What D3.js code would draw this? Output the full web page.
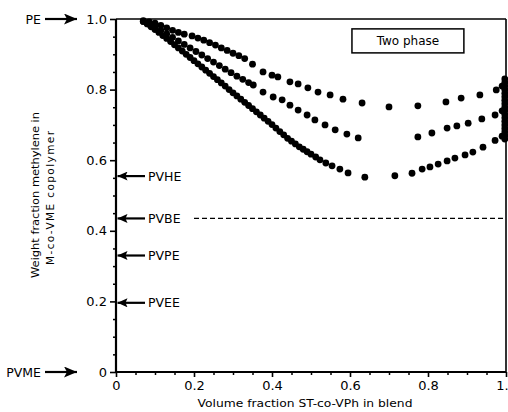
<!DOCTYPE html>
<html>
<head>
<meta charset="utf-8">
<script src="https://cdn.jsdelivr.net/npm/d3@7"></script>
<style>
  body { margin: 0; background: #fff; }
  svg { display: block; font-family: "DejaVu Sans", sans-serif; }
</style>
</head>
<body>
<div id="chart"></div>
<script>
// ---- data ----
const xTickValues = [0, 0.2, 0.4, 0.6, 0.8, 1.0];
const xTickLabels = ['0', '0.2', '0.4', '0.6', '0.8', '1.0'];
const yTickValues = [0, 0.2, 0.4, 0.6, 0.8, 1.0];
const yTickLabels = ['0', '0.2', '0.4', '0.6', '0.8', '1.0'];
const minorTickValues = [0.05, 0.1, 0.15, 0.25, 0.3, 0.35, 0.45, 0.5, 0.55, 0.65, 0.7, 0.75, 0.85, 0.9, 0.95];

// upper branch
const upperX = [0.07, 0.085, 0.10, 0.115, 0.13, 0.145, 0.16, 0.175, 0.195, 0.21, 0.225, 0.24, 0.255, 0.27, 0.285, 0.30,
  0.315, 0.33, 0.35, 0.377, 0.40, 0.415, 0.446, 0.467, 0.492, 0.518, 0.549, 0.582, 0.631, 0.70, 0.774, 0.846, 0.885,
  0.933, 0.975, 0.99];
const upperY = [0.995, 0.992, 0.988, 0.982, 0.975, 0.968, 0.962, 0.957, 0.952, 0.946, 0.940, 0.933, 0.926, 0.918, 0.911, 0.903,
  0.896, 0.888, 0.872, 0.850, 0.841, 0.836, 0.822, 0.816, 0.805, 0.793, 0.785, 0.773, 0.762, 0.751, 0.754, 0.765, 0.776,
  0.785, 0.799, 0.81];

// middle branch
const middleX = [0.07, 0.085, 0.10, 0.115, 0.13, 0.145, 0.16, 0.175, 0.19, 0.205, 0.22, 0.235, 0.25, 0.265, 0.28, 0.295,
  0.31, 0.325, 0.34, 0.352, 0.377, 0.403, 0.426, 0.446, 0.467, 0.49, 0.51, 0.536, 0.562, 0.592, 0.621,
  0.774, 0.81, 0.849, 0.874, 0.903, 0.938, 0.972, 0.99];
const middleY = [0.993, 0.985, 0.977, 0.968, 0.958, 0.948, 0.938, 0.928, 0.918, 0.908, 0.898, 0.888, 0.878, 0.868, 0.858, 0.848,
  0.838, 0.829, 0.820, 0.813, 0.793, 0.779, 0.771, 0.756, 0.742, 0.728, 0.714, 0.700, 0.686, 0.674, 0.663,
  0.666, 0.677, 0.691, 0.697, 0.705, 0.717, 0.728, 0.74];

// lower branch
const lowerX = [0.07, 0.08, 0.09, 0.10, 0.11, 0.12, 0.13, 0.14, 0.15, 0.16, 0.17, 0.18, 0.19, 0.20, 0.21, 0.22, 0.23, 0.24,
  0.25, 0.26, 0.27, 0.28, 0.29, 0.30, 0.31, 0.32, 0.33, 0.34, 0.35, 0.36, 0.37, 0.38, 0.39, 0.40, 0.41, 0.42, 0.43, 0.44,
  0.45, 0.46, 0.47, 0.48, 0.49, 0.50, 0.512, 0.523, 0.538, 0.554, 0.574, 0.595, 0.638,
  0.715, 0.759, 0.785, 0.805, 0.826, 0.849, 0.869, 0.895, 0.915, 0.941, 0.972, 0.99];
const lowerY = [0.993, 0.986, 0.978, 0.970, 0.962, 0.953, 0.945, 0.936, 0.927, 0.918, 0.909, 0.900, 0.891, 0.882, 0.873, 0.864,
  0.855, 0.846, 0.837, 0.828, 0.819, 0.810, 0.800, 0.791, 0.782, 0.773, 0.764, 0.755, 0.746, 0.737, 0.728, 0.719, 0.710,
  0.701, 0.691, 0.681, 0.672, 0.662, 0.654, 0.646, 0.638, 0.631, 0.624, 0.617, 0.609, 0.601, 0.592, 0.584, 0.575, 0.564,
  0.552, 0.556, 0.563, 0.575, 0.581, 0.589, 0.598, 0.606, 0.615, 0.623, 0.637, 0.656, 0.668];

// points packed on the right edge (pure ST-co-VPh side)
const edgeX = 0.997;
const edgeY = [0.83, 0.82, 0.81, 0.80, 0.79, 0.78, 0.77, 0.76, 0.75, 0.74, 0.73, 0.72, 0.71, 0.70, 0.69, 0.68, 0.67, 0.66];

const endLabels = ['PE', 'PVME'];
const endValues = [1.0, 0];
const etherLabels = ['PVHE', 'PVBE', 'PVPE', 'PVEE'];
const etherValues = [0.555, 0.435, 0.33, 0.196];

const dashedLevel = 0.435;
const dashedFrom = 0.2;
const phaseLabel = 'Two phase';

// ---- drawing ----
const W = 508, H = 412;
const margin = { top: 19, right: 2, bottom: 40, left: 116 };

const svg = d3.select('#chart').append('svg')
  .attr('width', W).attr('height', H)
  .attr('viewBox', `0 0 ${W} ${H}`);

const x = d3.scaleLinear().domain([0, 1]).range([margin.left, W - margin.right]);
const y = d3.scaleLinear().domain([0, 1]).range([H - margin.bottom, margin.top]);

const defs = svg.append('defs');
defs.append('marker')
  .attr('id', 'head-big')
  .attr('markerUnits', 'userSpaceOnUse')
  .attr('markerWidth', 13).attr('markerHeight', 11)
  .attr('refX', 13).attr('refY', 5.5)
  .attr('orient', 'auto')
  .append('path').attr('d', 'M0,0 L13,5.5 L0,11 L3,5.5 Z').attr('fill', '#000');
defs.append('marker')
  .attr('id', 'head-small')
  .attr('markerUnits', 'userSpaceOnUse')
  .attr('markerWidth', 10).attr('markerHeight', 9)
  .attr('refX', 10).attr('refY', 4.5)
  .attr('orient', 'auto')
  .append('path').attr('d', 'M0,0 L10,4.5 L0,9 L2,4.5 Z').attr('fill', '#000');

// frame (top and right)
svg.append('line')
  .attr('x1', x(0)).attr('x2', x(1)).attr('y1', y(1)).attr('y2', y(1))
  .attr('stroke', '#000').attr('stroke-width', 1.6);
svg.append('line')
  .attr('x1', x(1)).attr('x2', x(1)).attr('y1', y(1)).attr('y2', y(0))
  .attr('stroke', '#000').attr('stroke-width', 1.6);

// minor ticks
svg.append('g')
  .attr('transform', `translate(${x(0)},0)`)
  .call(d3.axisLeft(y).tickValues(minorTickValues).tickSize(3).tickFormat(''))
  .call(g => g.select('.domain').remove())
  .call(g => g.selectAll('line').attr('stroke-width', 1.5));
svg.append('g')
  .attr('transform', `translate(0,${y(0)})`)
  .call(d3.axisBottom(x).tickValues(minorTickValues).tickSize(3).tickFormat(''))
  .call(g => g.select('.domain').remove())
  .call(g => g.selectAll('line').attr('stroke-width', 1.5));

// major axes
const yAxis = svg.append('g')
  .attr('transform', `translate(${x(0)},0)`)
  .call(d3.axisLeft(y).tickValues(yTickValues).tickSize(6).tickPadding(3)
    .tickFormat((d, i) => yTickLabels[i]));
const xAxis = svg.append('g')
  .attr('transform', `translate(0,${y(0)})`)
  .call(d3.axisBottom(x).tickValues(xTickValues).tickSize(5).tickPadding(4)
    .tickFormat((d, i) => xTickLabels[i]));

[xAxis, yAxis].forEach(a => {
  a.select('.domain').remove();
  a.selectAll('.tick line').attr('stroke-width', 1.6);
  a.selectAll('.tick text')
    .style('font-family', '"DejaVu Sans", sans-serif')
    .style('font-size', '13px').attr('fill', '#000');
});
svg.append('line')
  .attr('x1', x(0)).attr('x2', x(0)).attr('y1', y(1)).attr('y2', y(0) + 1)
  .attr('stroke', '#000').attr('stroke-width', 2.2);
svg.append('line')
  .attr('x1', x(0) - 1).attr('x2', x(1)).attr('y1', y(0)).attr('y2', y(0))
  .attr('stroke', '#000').attr('stroke-width', 2.2);

// dashed PVBE level
svg.append('line')
  .attr('x1', x(dashedFrom)).attr('x2', x(1))
  .attr('y1', y(dashedLevel)).attr('y2', y(dashedLevel))
  .attr('stroke', '#000').attr('stroke-width', 1.3)
  .attr('stroke-dasharray', '5,3');

// two phase box
const box = svg.append('g');
box.append('rect')
  .attr('x', x(0.605)).attr('y', y(0.972))
  .attr('width', x(0.892) - x(0.605)).attr('height', y(0.904) - y(0.972))
  .attr('fill', '#fff').attr('stroke', '#000').attr('stroke-width', 1.5);
box.append('text')
  .attr('x', (x(0.605) + x(0.892)) / 2).attr('y', y(0.938) + 4.5)
  .attr('text-anchor', 'middle')
  .style('font-size', '12px')
  .text(phaseLabel);

// data points
const pts = [];
upperX.forEach((v, i) => pts.push([v, upperY[i]]));
middleX.forEach((v, i) => pts.push([v, middleY[i]]));
lowerX.forEach((v, i) => pts.push([v, lowerY[i]]));
edgeY.forEach(v => pts.push([edgeX, v]));

svg.append('g').selectAll('circle')
  .data(pts)
  .enter()
  .append('circle')
  .attr('cx', d => x(d[0]))
  .attr('cy', d => y(d[1]))
  .attr('r', 3.4)
  .attr('fill', '#000');

// end-member labels outside the axis
endLabels.forEach((lab, i) => {
  const yy = y(endValues[i]);
  svg.append('line')
    .attr('x1', x(0) - 71).attr('x2', x(0) - 39)
    .attr('y1', yy).attr('y2', yy)
    .attr('stroke', '#000').attr('stroke-width', 2.2)
    .attr('marker-end', 'url(#head-big)');
  svg.append('text')
    .attr('x', x(0) - 75).attr('y', yy + 4.5)
    .attr('text-anchor', 'end')
    .style('font-size', '12.5px')
    .text(lab);
});

// homopolymer ether labels inside
etherLabels.forEach((lab, i) => {
  const yy = y(etherValues[i]);
  svg.append('line')
    .attr('x1', x(0) + 29).attr('x2', x(0) + 1.5)
    .attr('y1', yy).attr('y2', yy)
    .attr('stroke', '#000').attr('stroke-width', 2.2)
    .attr('marker-end', 'url(#head-small)');
  svg.append('text')
    .attr('x', x(0) + 32).attr('y', yy + 4.5)
    .style('font-size', '12.5px')
    .text(lab);
});

// axis titles
svg.append('text')
  .attr('x', 305).attr('y', 407)
  .attr('text-anchor', 'middle')
  .attr('textLength', 215).attr('lengthAdjust', 'spacingAndGlyphs')
  .style('font-size', '11px')
  .text('Volume fraction ST-co-VPh in blend');

svg.append('text')
  .attr('transform', 'translate(39,195) rotate(-90)')
  .attr('text-anchor', 'middle')
  .attr('textLength', 166).attr('lengthAdjust', 'spacingAndGlyphs')
  .style('font-size', '10.5px')
  .text('Weight fraction methylene in');
svg.append('text')
  .attr('transform', 'translate(54,198) rotate(-90)')
  .attr('text-anchor', 'middle')
  .attr('textLength', 134).attr('lengthAdjust', 'spacing')
  .style('font-size', '10.5px')
  .text('M-co-VME copolymer');
</script>
</body>
</html>
